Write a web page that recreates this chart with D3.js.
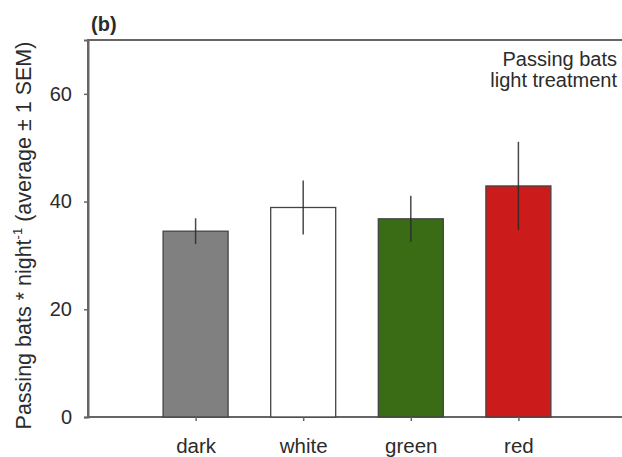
<!DOCTYPE html>
<html>
<head>
<meta charset="utf-8">
<script src="https://cdn.jsdelivr.net/npm/d3@7"></script>
<style>
  body { margin: 0; background: #fff; }
  text { font-family: "Liberation Sans", Arial, sans-serif; fill: #2b2b2b; }
</style>
</head>
<body>
<script>
// data
const categories = ["dark", "white", "green", "red"];
const means = [34.5, 38.9, 36.8, 42.9];
const sems = [2.4, 5.0, 4.3, 8.2];
const barColors = ["#808080", "#ffffff", "#3a6b15", "#cc1b1b"];
const yTicks = [0, 20, 40, 60];

const width = 622, height = 457;
const plotLeft = 88, plotTop = 40, plotBottom = 417, plotRight = 626;

const svg = d3.select("body").append("svg")
    .attr("width", width)
    .attr("height", height);

const x = d3.scalePoint()
    .domain(categories)
    .range([plotLeft, plotRight])
    .padding(1);

const y = d3.scaleLinear()
    .domain([0, 70])
    .range([plotBottom, plotTop]);

const barW = 65;

// frame
svg.append("rect")
    .attr("x", plotLeft)
    .attr("y", plotTop)
    .attr("width", plotRight - plotLeft)
    .attr("height", plotBottom - plotTop)
    .attr("fill", "none")
    .attr("stroke", "#666")
    .attr("stroke-width", 2);

// bars
svg.selectAll(".bar")
    .data(categories)
    .join("rect")
    .attr("class", "bar")
    .attr("x", d => x(d) - barW / 2)
    .attr("y", (d, i) => y(means[i]))
    .attr("width", barW)
    .attr("height", (d, i) => y(0) - y(means[i]))
    .attr("fill", (d, i) => barColors[i])
    .attr("stroke", "#444")
    .attr("stroke-width", 1.3);

// error bars (no caps)
svg.selectAll(".err")
    .data(categories)
    .join("line")
    .attr("class", "err")
    .attr("x1", d => x(d))
    .attr("x2", d => x(d))
    .attr("y1", (d, i) => y(means[i] + sems[i]))
    .attr("y2", (d, i) => y(means[i] - sems[i]))
    .attr("stroke", "#2a2a2a")
    .attr("stroke-width", 1.5)
    .attr("stroke-opacity", 0.85);

// y axis
const yAxis = svg.append("g")
    .attr("transform", `translate(${plotLeft},0)`)
    .call(d3.axisLeft(y).tickValues(yTicks).tickSize(4).tickPadding(12));
yAxis.select(".domain").attr("stroke", "#666").attr("stroke-width", 2);
yAxis.selectAll(".tick line").attr("stroke", "#666").attr("stroke-width", 1.5);
yAxis.selectAll(".tick text").attr("font-size", 20).attr("fill", "#2b2b2b")
    .style("font-family", "Liberation Sans, Arial, sans-serif");

// x axis
const xAxis = svg.append("g")
    .attr("transform", `translate(0,${plotBottom})`)
    .call(d3.axisBottom(x).tickSize(4).tickPadding(17));
xAxis.select(".domain").remove();
xAxis.selectAll(".tick line").attr("stroke", "#666").attr("stroke-width", 1.5);
xAxis.selectAll(".tick text").attr("font-size", 20.5).attr("fill", "#2b2b2b")
    .style("font-family", "Liberation Sans, Arial, sans-serif");

// y label
const yl = svg.append("text")
    .attr("transform", `translate(31,${(plotTop + plotBottom) / 2 + 7}) rotate(-90)`)
    .attr("text-anchor", "middle")
    .attr("font-size", 21.5);
yl.append("tspan").text("Passing bats * night");
yl.append("tspan").attr("font-size", 13).attr("dy", -9).text("-1");
yl.append("tspan").attr("dy", 9).text(" (average \u00b1 1 SEM)");

// panel letter
svg.append("text")
    .attr("x", 91)
    .attr("y", 31)
    .attr("font-size", 20)
    .attr("font-weight", "bold")
    .text("(b)");

// annotation
const note = svg.append("text")
    .attr("text-anchor", "end")
    .attr("font-size", 20);
note.append("tspan").attr("x", 617).attr("y", 66).text("Passing bats");
note.append("tspan").attr("x", 617).attr("y", 87).text("light treatment");
</script>
</body>
</html>
